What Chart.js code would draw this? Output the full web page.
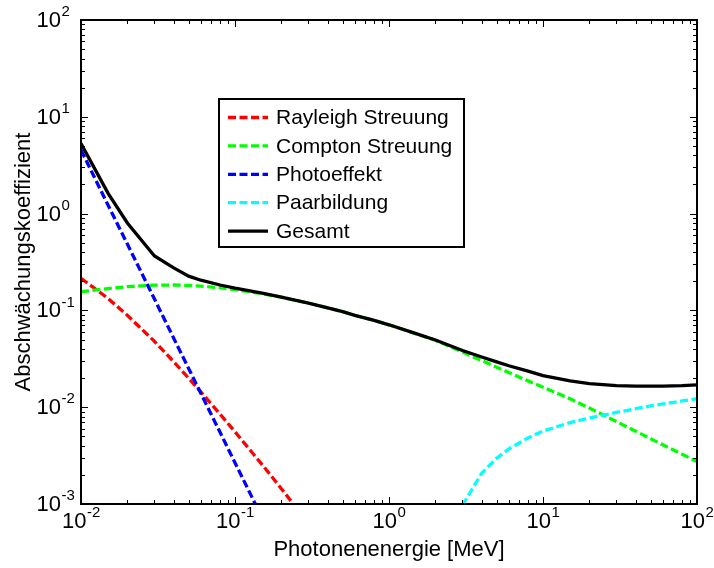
<!DOCTYPE html>
<html>
<head>
<meta charset="utf-8">
<script src="https://cdn.jsdelivr.net/npm/chart.js@4.4.1/dist/chart.umd.min.js"></script>
<style>
html,body{margin:0;padding:0;background:#fff;}
#wrap{width:714px;height:568px;position:relative;}
canvas{display:block;}
</style>
</head>
<body>
<div id="wrap"><canvas id="c" width="714" height="568"></canvas></div>
<script>
// ---- data ----
const energies = [0.01, 0.015, 0.02, 0.03, 0.04, 0.05, 0.06, 0.08, 0.1, 0.15, 0.2, 0.3, 0.4, 0.5, 0.6, 0.8, 1, 1.5, 2, 3, 4, 5, 6, 8, 10, 15, 20, 30, 40, 50, 60, 80, 100];
const rayleigh = [0.215, 0.1327, 0.0889, 0.0479, 0.0295, 0.01995, 0.01439, 0.00847, 0.00557, 0.00255, 0.00144, 0.00063, null, null, null, null, null, null, null, null, null, null, null, null, null, null, null, null, null, null, null, null, null];
const compton = [0.156, 0.168, 0.176, 0.182, 0.183, 0.181, 0.178, 0.171, 0.164, 0.149, 0.137, 0.119, 0.106, 0.097, 0.089, 0.079, 0.071, 0.0573, 0.0491, 0.0372, 0.0303, 0.0259, 0.0228, 0.0187, 0.0161, 0.0122, 0.0098, 0.0071, 0.00565, 0.00473, 0.00409, 0.00326, 0.00275];
const photo = [4.54, 1.22, 0.484, 0.131, 0.0516, 0.0251, 0.0139, 0.0055, 0.00267, 0.00072, null, null, null, null, null, null, null, null, null, null, null, null, null, null, null, null, null, null, null, null, null, null, null];
const pair = [null, null, null, null, null, null, null, null, null, null, null, null, null, null, null, null, null, null, 0.0004, 0.00097, 0.00208, 0.00297, 0.0037, 0.00482, 0.00566, 0.00693, 0.00773, 0.00883, 0.00966, 0.0103, 0.0108, 0.0116, 0.01225];
const total = [5.3, 1.62, 0.80, 0.365, 0.275, 0.226, 0.205, 0.183, 0.170, 0.151, 0.137, 0.119, 0.106, 0.097, 0.089, 0.079, 0.071, 0.0575, 0.0494, 0.0385, 0.0330, 0.0294, 0.0268, 0.0236, 0.0212, 0.0187, 0.0175, 0.0167, 0.0165, 0.0165, 0.0165, 0.0167, 0.0170];
const seriesLabels = ['Rayleigh Streuung', 'Compton Streuung', 'Photoeffekt', 'Paarbildung', 'Gesamt'];
const xTickExponents = [-2, -1, 0, 1, 2];
const yTickExponents = [-3, -2, -1, 0, 1, 2];
const xTitle = 'Photonenenergie [MeV]';
const yTitle = 'Abschwächungskoeffizient';

// ---- build ----
const FONT = '"Liberation Sans", Arial, Helvetica, sans-serif';
function pts(vals) { return energies.map((e, i) => ({x: e, y: vals[i]})); }

const dsStyle = [
  {color: '#ff0000', dash: [8, 3.5], order: 4},
  {color: '#00ff00', dash: [8, 3.5], order: 3},
  {color: '#0000ff', dash: [8, 3.5], order: 2},
  {color: '#00ffff', dash: [8, 3.5], order: 1},
  {color: '#000000', dash: [], order: 0}
];
const seriesValues = [rayleigh, compton, photo, pair, total];
const datasets = seriesValues.map((v, i) => ({
  label: seriesLabels[i],
  data: pts(v),
  borderColor: dsStyle[i].color,
  backgroundColor: dsStyle[i].color,
  borderDash: dsStyle[i].dash,
  borderWidth: 3.3,
  pointRadius: 0,
  tension: 0,
  fill: false,
  spanGaps: false,
  order: dsStyle[i].order
}));

const framePlugin = {
  id: 'frame',
  afterDraw(chart) {
    const ctx = chart.ctx;
    const a = chart.chartArea;
    const xs = chart.scales.x, ys = chart.scales.y;
    ctx.save();
    // ticks (inward, all four sides)
    ctx.strokeStyle = '#000';
    ctx.lineWidth = 1;
    ctx.beginPath();
    const MAJ = 7, MIN = 4;
    const xMaxE = xTickExponents[xTickExponents.length - 1];
    const yMaxE = yTickExponents[yTickExponents.length - 1];
    for (let e = xTickExponents[0]; e <= xMaxE; e++) {
      for (let k = 1; k <= 9; k++) {
        if (e === xMaxE && k > 1) break;
        const p = Math.round(xs.getPixelForValue(k * Math.pow(10, e))) + 0.5;
        const L = k === 1 ? MAJ : MIN;
        ctx.moveTo(p, a.bottom); ctx.lineTo(p, a.bottom - L);
        ctx.moveTo(p, a.top); ctx.lineTo(p, a.top + L);
      }
    }
    for (let e = yTickExponents[0]; e <= yMaxE; e++) {
      for (let k = 1; k <= 9; k++) {
        if (e === yMaxE && k > 1) break;
        const p = Math.round(ys.getPixelForValue(k * Math.pow(10, e))) + 0.5;
        const L = k === 1 ? MAJ : MIN;
        ctx.moveTo(a.left, p); ctx.lineTo(a.left + L, p);
        ctx.moveTo(a.right, p); ctx.lineTo(a.right - L, p);
      }
    }
    ctx.stroke();
    // frame
    ctx.lineWidth = 2;
    ctx.strokeRect(a.left, a.top, a.right - a.left, a.bottom - a.top);

    // tick labels: "10" with superscript exponent
    ctx.fillStyle = '#000';
    ctx.textBaseline = 'middle';
    ctx.textAlign = 'left';
    const baseFont = '22px ' + FONT, expFont = '15px ' + FONT;
    xTickExponents.forEach(e => {
      const p = xs.getPixelForValue(Math.pow(10, e));
      ctx.font = baseFont;
      const w = ctx.measureText('10').width;
      ctx.font = expFont;
      const we = ctx.measureText(String(e)).width;
      const x0 = p - (w + we) / 2;
      ctx.font = baseFont;
      ctx.fillText('10', x0, a.bottom + 18);
      ctx.font = expFont;
      ctx.fillText(String(e), x0 + w + 0.5, a.bottom + 9);
    });
    yTickExponents.forEach(e => {
      const p = ys.getPixelForValue(Math.pow(10, e));
      ctx.font = baseFont; ctx.textAlign = 'right';
      ctx.fillText('10', a.left - 20, p + 1);
      ctx.font = expFont; ctx.textAlign = 'left';
      ctx.fillText(String(e), a.left - 19.5, p - 8);
    });

    // legend
    const lx = 219, ly = 99, lw = 245, lh = 148;
    ctx.fillStyle = '#fff';
    ctx.fillRect(lx, ly, lw, lh);
    ctx.lineWidth = 2;
    ctx.strokeStyle = '#000';
    ctx.strokeRect(lx, ly, lw, lh);
    ctx.font = '21px ' + FONT;
    ctx.textAlign = 'left';
    ctx.textBaseline = 'middle';
    chart.data.datasets.forEach((ds, i) => {
      const y = ly + 18.5 + i * 28.4;
      ctx.save();
      ctx.strokeStyle = ds.borderColor;
      ctx.lineWidth = 3.3;
      ctx.setLineDash(ds.borderDash || []);
      ctx.beginPath();
      ctx.moveTo(lx + 9, y); ctx.lineTo(lx + 49, y);
      ctx.stroke();
      ctx.restore();
      ctx.fillStyle = '#000';
      ctx.fillText(ds.label, lx + 57, y + 1);
    });
    ctx.restore();
  }
};

new Chart(document.getElementById('c'), {
  type: 'line',
  data: {datasets},
  options: {
    responsive: false,
    devicePixelRatio: 1,
    animation: false,
    events: [],
    layout: {padding: {left: 0, right: 17, top: 20, bottom: 0}},
    plugins: {legend: {display: false}, tooltip: {enabled: false}},
    scales: {
      x: {
        type: 'logarithmic', min: 0.01, max: 100, position: 'bottom',
        grid: {display: false}, border: {display: false},
        ticks: {display: false},
        title: {display: true, text: xTitle, color: '#000', font: {family: FONT, size: 22, lineHeight: 1}, padding: {top: 0, bottom: 7}},
        afterFit(s) { s.height = 64; }
      },
      y: {
        type: 'logarithmic', min: 0.001, max: 100, position: 'left',
        grid: {display: false}, border: {display: false},
        ticks: {display: false},
        title: {display: true, text: yTitle, color: '#000', font: {family: FONT, size: 22, lineHeight: 1}, padding: {top: 13, bottom: 0}},
        afterFit(s) { s.width = 81; }
      }
    }
  },
  plugins: [framePlugin]
});
</script>
</body>
</html>
